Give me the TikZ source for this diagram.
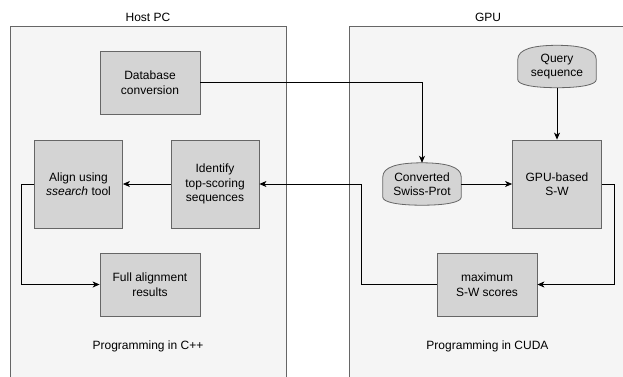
\documentclass[tikz,border=0pt]{standalone}
\usepackage{fontspec}
\setmainfont{Liberation Sans}
\usetikzlibrary{arrows.meta,positioning,calc,backgrounds}
\definecolor{panelgray}{HTML}{F5F5F5}
\definecolor{panelline}{HTML}{666666}
\definecolor{boxgray}{HTML}{D4D4D4}
\tikzset{panel/.style={draw=panelline,fill=panelgray,line width=0.8pt,inner sep=0pt}}
\tikzset{procbox/.style={draw=panelline,fill=boxgray,line width=0.8pt,align=center,inner sep=0pt}}
\tikzset{storebox/.style={align=center,inner sep=0pt,minimum width=78pt,minimum height=42pt}}
\tikzset{flow/.style={-{Stealth[length=7pt,width=6pt,inset=2pt]},line width=0.8pt}}
% drum-like outline behind a storebox node
\newcommand{\storeshape}[1]{%
  \draw[draw=panelline,fill=boxgray,line width=0.8pt]
    ($(#1.north west)+(0,14)$) .. controls ($(#1.north west)+(0,4)$) and ($(#1.north)+(-24,0)$) .. (#1.north)
    .. controls ($(#1.north)+(24,0)$) and ($(#1.north east)+(0,4)$) .. ($(#1.north east)+(0,14)$)
    -- ($(#1.south east)+(0,-8)$) .. controls ($(#1.south east)+(0,-3)$) and ($(#1.south)+(24,0)$) .. (#1.south)
    .. controls ($(#1.south)+(-24,0)$) and ($(#1.south west)+(0,-3)$) .. ($(#1.south west)+(0,-8)$) -- cycle;}

\begin{document}
\begin{tikzpicture}[x=1pt,y=-1pt,font=\fontsize{12pt}{14.5pt}\selectfont]
\useasboundingbox (0,0) rectangle (623,376);
% \draw[help lines,step=50] (0,0) grid (623,376);
\begin{scope}[on background layer]
\node (host) [panel,anchor=north west,minimum width=276pt,minimum height=380pt] at (10,26) {};
\node (gpu) [panel,anchor=north west,minimum width=278pt,minimum height=380pt] at (349,26) {};
\end{scope}
\node (hostlabel) at (148,17) {Host PC};
\node (gpulabel) at (488,17) {GPU};
%
\node (db) [procbox,minimum width=100pt,minimum height=63pt] at (150,82.5) {Database\\conversion};
\node (align) [procbox,minimum width=88pt,minimum height=88pt] at (78.5,184) {Align using\\\textit{ssearch} tool};
\node (ident) [procbox,minimum width=88pt,minimum height=88pt] at (215,184) {Identify\\top-scoring\\sequences};
\node (full) [procbox,minimum width=100pt,minimum height=63pt] at (150,284.5) {Full alignment\\results};
\node (cpp) at (148,346) {Programming in C++};
%
\node (query) [storebox] at (557,66.5) {Query\\sequence};
\node (conv) [storebox] at (422,184) {Converted\\Swiss-Prot};
\node (gpusw) [procbox,minimum width=89pt,minimum height=88pt] at (557,184) {GPU-based\\S-W};
\node (maxsw) [procbox,minimum width=100pt,minimum height=63pt] at (487,284.5) {maximum\\S-W scores};
\node (cuda) at (487.5,346) {Programming in CUDA};
\begin{scope}[on background layer]
\storeshape{query}
\storeshape{conv}
\end{scope}
%
\draw[flow] (db.east) -| (conv.north);
\draw[flow] (query.south) -- (gpusw.north);
\draw[flow] (conv.east) -- (gpusw.west);
\draw[flow] (gpusw.east) -- ++(12,0) |- (maxsw.east);
\draw[flow] (maxsw.west) -- ++(-75,0) |- (ident.east);
\draw[flow] (ident.west) -- (align.east);
\draw[flow] (align.west) -- ++(-12.5,0) |- (full.west);
\end{tikzpicture}
\end{document}
